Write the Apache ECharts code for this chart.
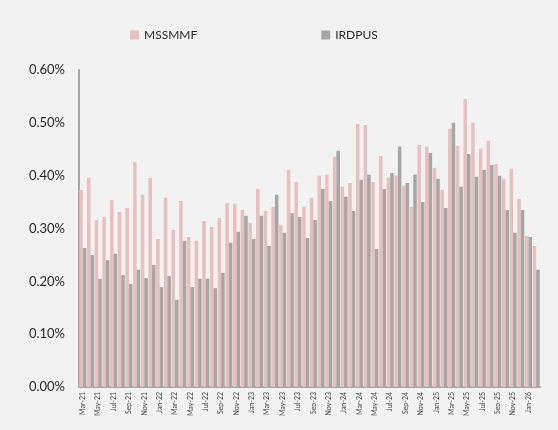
<!DOCTYPE html>
<html>
<head>
<meta charset="utf-8">
<script src="https://cdn.jsdelivr.net/npm/echarts@6/dist/echarts.min.js"></script>
<style>
  html, body { margin: 0; padding: 0; background: #f2f2f2; }
  #chart { width: 558px; height: 430px; }
</style>
</head>
<body>
<div id="chart"></div>
<script>
// months Mar-21 .. Feb-26
const months = [
  'Mar-21', 'Apr-21', 'May-21', 'Jun-21', 'Jul-21', 'Aug-21', 'Sep-21', 'Oct-21', 'Nov-21', 'Dec-21',
  'Jan-22', 'Feb-22', 'Mar-22', 'Apr-22', 'May-22', 'Jun-22', 'Jul-22', 'Aug-22', 'Sep-22', 'Oct-22', 'Nov-22', 'Dec-22',
  'Jan-23', 'Feb-23', 'Mar-23', 'Apr-23', 'May-23', 'Jun-23', 'Jul-23', 'Aug-23', 'Sep-23', 'Oct-23', 'Nov-23', 'Dec-23',
  'Jan-24', 'Feb-24', 'Mar-24', 'Apr-24', 'May-24', 'Jun-24', 'Jul-24', 'Aug-24', 'Sep-24', 'Oct-24', 'Nov-24', 'Dec-24',
  'Jan-25', 'Feb-25', 'Mar-25', 'Apr-25', 'May-25', 'Jun-25', 'Jul-25', 'Aug-25', 'Sep-25', 'Oct-25', 'Nov-25', 'Dec-25',
  'Jan-26', 'Feb-26'
];

// values in %
const mssmmf = [
  0.373, 0.396, 0.316, 0.322, 0.354, 0.331, 0.339, 0.426, 0.364, 0.396,
  0.280, 0.358, 0.297, 0.352, 0.284, 0.277, 0.314, 0.303, 0.320, 0.348, 0.347, 0.335,
  0.310, 0.375, 0.333, 0.341, 0.307, 0.411, 0.388, 0.341, 0.358, 0.400, 0.402, 0.436,
  0.379, 0.386, 0.498, 0.496, 0.388, 0.437, 0.396, 0.400, 0.381, 0.341, 0.458, 0.455,
  0.415, 0.373, 0.489, 0.456, 0.545, 0.500, 0.451, 0.466, 0.422, 0.394, 0.413, 0.356,
  0.286, 0.267
];

const irdpus = [
  0.263, 0.250, 0.205, 0.240, 0.252, 0.212, 0.195, 0.222, 0.206, 0.231,
  0.189, 0.210, 0.165, 0.277, 0.189, 0.205, 0.205, 0.187, 0.216, 0.273, 0.294, 0.324,
  0.280, 0.324, 0.267, 0.364, 0.292, 0.329, 0.322, 0.282, 0.316, 0.375, 0.352, 0.447,
  0.360, 0.333, 0.392, 0.402, 0.261, 0.375, 0.405, 0.455, 0.386, 0.402, 0.350, 0.443,
  0.394, 0.339, 0.500, 0.379, 0.441, 0.398, 0.411, 0.420, 0.400, 0.335, 0.292, 0.335,
  0.284, 0.222
];

const chart = echarts.init(document.getElementById('chart'));
const fontFamily = 'Lato, "Open Sans", sans-serif';
const axisColor = '#a6a6a6';

chart.setOption({
  backgroundColor: '#f2f2f2',
  animation: false,
  textStyle: { fontFamily: fontFamily },
  legend: {
    left: 125,
    top: 24,
    itemWidth: 9,
    itemHeight: 9,
    itemGap: 124,
    icon: 'rect',
    textStyle: { fontSize: 12, color: '#262626', fontFamily: fontFamily },
    data: ['MSSMMF', 'IRDPUS']
  },
  grid: {
    left: 79,
    right: 18,
    top: 70,
    bottom: 43,
    containLabel: false
  },
  xAxis: {
    type: 'category',
    data: months,
    axisLine: { lineStyle: { color: axisColor, width: 2 } },
    axisTick: { show: false },
    axisLabel: {
      rotate: 90,
      interval: 1,
      fontSize: 7,
      color: '#404040',
      margin: 5
    }
  },
  yAxis: {
    type: 'value',
    min: 0,
    max: 0.6,
    interval: 0.1,
    axisLine: { show: true, lineStyle: { color: axisColor, width: 2 } },
    axisTick: { show: false },
    splitLine: { show: false },
    axisLabel: {
      fontSize: 13,
      color: '#262626',
      margin: 14,
      formatter: (v) => v.toFixed(2) + '%'
    }
  },
  series: [
    {
      name: 'MSSMMF',
      type: 'bar',
      data: mssmmf,
      barGap: '0%',
      barCategoryGap: '8%',
      itemStyle: { color: '#e8bfbf' }
    },
    {
      name: 'IRDPUS',
      type: 'bar',
      data: irdpus,
      itemStyle: { color: '#a6a6a6' }
    }
  ]
});
</script>
</body>
</html>
